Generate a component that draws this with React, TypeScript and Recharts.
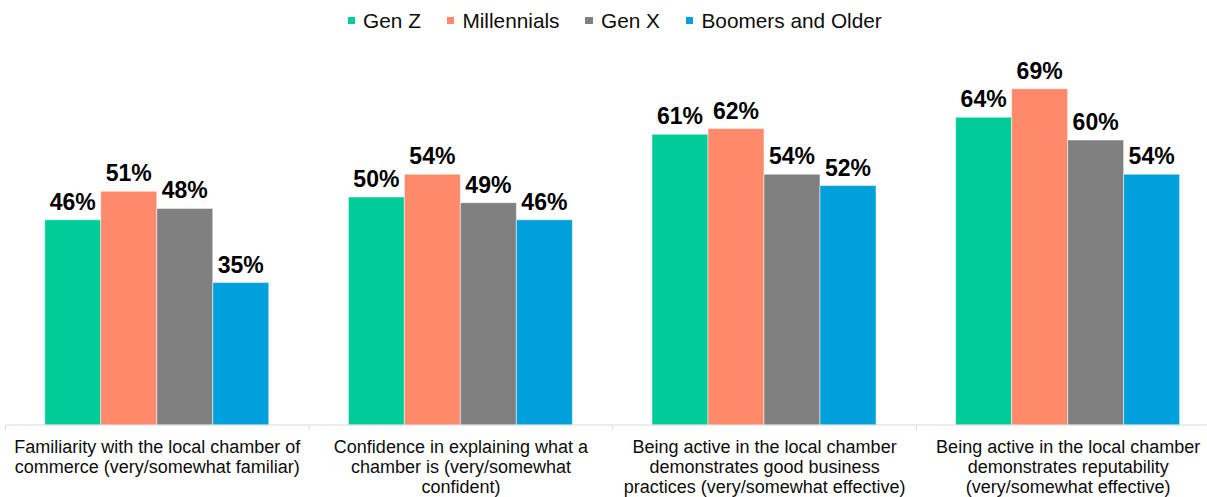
import React from 'react';
import { BarChart, Bar, XAxis, YAxis, Legend, LabelList } from 'recharts';

// categories (line breaks as in the original slide)
const categories = [
  'Familiarity with the local chamber of\ncommerce (very/somewhat familiar)',
  'Confidence in explaining what a\nchamber is (very/somewhat\nconfident)',
  'Being active in the local chamber\ndemonstrates good business\npractices (very/somewhat effective)',
  'Being active in the local chamber\ndemonstrates reputability\n(very/somewhat effective)',
];

const genZ = [46, 50, 61, 64];
const millennials = [51, 54, 62, 69];
const genX = [48, 49, 54, 60];
const boomers = [35, 46, 52, 54];

const series = [
  { key: 'genZ', name: 'Gen Z', color: '#00CC99' },
  { key: 'millennials', name: 'Millennials', color: '#FF8A6B' },
  { key: 'genX', name: 'Gen X', color: '#808080' },
  { key: 'boomers', name: 'Boomers and Older', color: '#00A0DC' },
];

const data = categories.map((category, i) => ({
  category,
  genZ: genZ[i],
  millennials: millennials[i],
  genX: genX[i],
  boomers: boomers[i],
}));

const FONT = '"Liberation Sans", Arial, sans-serif';
const CHART_W = 1220;
const CHART_H = 497;
const MARGIN = { top: 26, right: 0, bottom: 0, left: 5.5 };
const BAND = (CHART_W - MARGIN.left - MARGIN.right) / categories.length;

const CategoryTick = (props: any) => {
  const { x, y, payload } = props;
  const lines: string[] = String(payload.value).split('\n');
  const axisY = y - 8;
  return (
    <g>
      <line x1={x - BAND / 2} x2={x - BAND / 2} y1={axisY} y2={axisY + 5} stroke="#d9d9d9" />
      <text x={x} y={y} textAnchor="middle" fontSize={18} fill="#0d0d0d" fontFamily={FONT}>
        {lines.map((line, i) => (
          <tspan key={i} x={x} dy={20}>
            {line}
          </tspan>
        ))}
      </text>
    </g>
  );
};

const LegendContent = () => (
  <div
    style={{
      display: 'flex',
      justifyContent: 'center',
      alignItems: 'center',
      height: 41,
      fontFamily: FONT,
      fontSize: 20.8,
      color: '#0d0d0d',
    }}
  >
    {series.map((s, i) => (
      <div key={s.key} style={{ display: 'flex', alignItems: 'center', marginLeft: i === 0 ? 0 : 26 }}>
        <span style={{ width: 7.5, height: 7.5, background: s.color, marginRight: 8, display: 'inline-block' }} />
        <span>{s.name}</span>
      </div>
    ))}
  </div>
);

export default function App() {
  return (
    <div
      style={{
        position: 'absolute',
        top: 0,
        left: 0,
        width: 1207,
        height: 497,
        overflow: 'hidden',
        background: '#ffffff',
      }}
    >
      <BarChart
        width={CHART_W}
        height={CHART_H}
        data={data}
        margin={MARGIN}
        barCategoryGap="12.93%"
        barGap={0}
      >
        <XAxis
          dataKey="category"
          interval={0}
          height={72}
          axisLine={{ stroke: '#d9d9d9' }}
          tickLine={false}
          tick={<CategoryTick />}
        />
        <YAxis hide domain={[10, 80]} allowDataOverflow />
        <Legend
          layout="horizontal"
          verticalAlign="middle"
          align="center"
          content={<LegendContent />}
          wrapperStyle={{ top: 0, left: 0, width: 1229.4, height: 41 }}
        />
        {series.map((s) => (
          <Bar
            key={s.key}
            dataKey={s.key}
            name={s.name}
            fill={s.color}
            stroke="#ffffff"
            strokeOpacity={0.5}
            strokeWidth={1}
            isAnimationActive={false}
          >
            <LabelList
              dataKey={s.key}
              position="top"
              offset={10}
              formatter={(v: any) => `${v}%`}
              style={{ fontSize: 23, fontWeight: 700, fill: '#000000', fontFamily: FONT }}
            />
          </Bar>
        ))}
      </BarChart>
    </div>
  );
}
